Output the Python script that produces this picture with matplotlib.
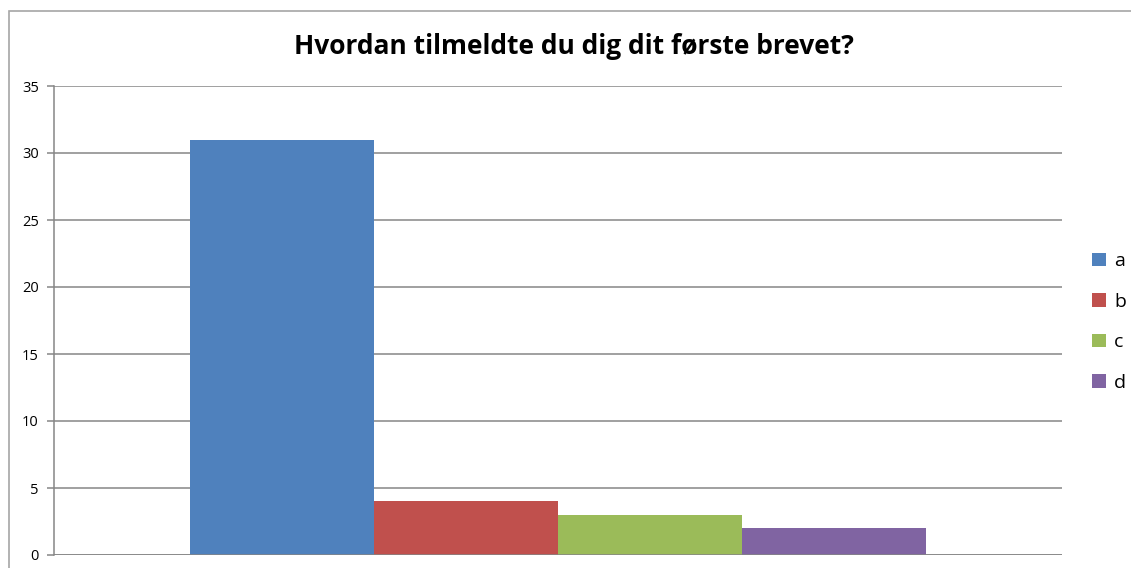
import matplotlib.pyplot as plt
from matplotlib.patches import Rectangle

# data
categories = ["a", "b", "c", "d"]
values = [31, 4, 3, 2]
colors = ["#4F81BD", "#C0504D", "#9BBB59", "#8064A2"]
yticks = [0, 5, 10, 15, 20, 25, 30, 35]
title = "Hvordan tilmeldte du dig dit første brevet?"

plt.rcParams['font.family'] = ['Open Sans', 'DejaVu Sans']

fig = plt.figure(figsize=(11.31, 5.68), dpi=100)
ax = fig.add_axes([54 / 1131, 1 - 555 / 568, (1062 - 54) / 1131, (555 - 86) / 568])

# outer chart frame like the spreadsheet one
fig.patches.append(Rectangle((9 / 1131, -0.01), 1.02, 1 - 11 / 568 + 0.01,
                             transform=fig.transFigure, fill=False,
                             edgecolor="#A6A6A6", linewidth=1.2))

group = 0.73
w = group / len(values)
for i in range(len(values)):
    x = 0.5 + (i - 1.5) * w
    ax.bar(x, values[i], width=w, color=colors[i], label=categories[i], zorder=3)

ax.set_xlim(0, 1)
ax.set_ylim(0, 35)
ax.set_yticks(yticks)
ax.set_xticks([])
ax.yaxis.grid(True, color="#868686", linewidth=1.1, zorder=0)
for s in ["top", "right", "bottom"]:
    ax.spines[s].set_visible(False)
ax.spines["left"].set_color("#868686")
ax.spines["left"].set_linewidth(1.1)
ax.axhline(0, color="#868686", linewidth=1.1, zorder=4)
ax.tick_params(axis="y", length=5, width=1.1, color="#868686", labelsize=10.5, pad=6)

fig.text(574 / 1131, 1 - 47 / 568, title, ha="center", va="center",
         fontsize=19, fontweight="bold")

ax.legend(loc="center left", bbox_to_anchor=(1092 / 1131, 1 - 322 / 568),
          bbox_transform=fig.transFigure, frameon=False, fontsize=14,
          handlelength=0.7, handleheight=0.7, handletextpad=0.45,
          labelspacing=1.15, borderpad=0, borderaxespad=0)

fig.savefig("out.png", dpi=100)
